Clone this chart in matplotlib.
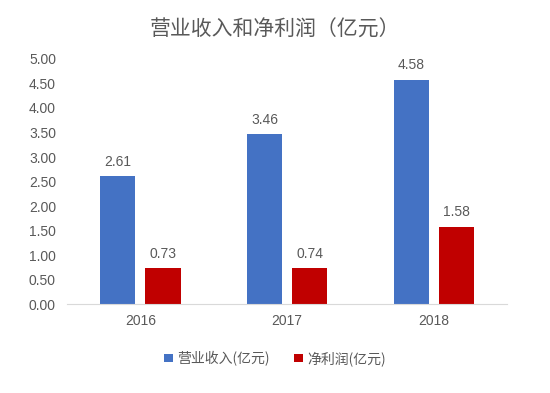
import numpy as np
import matplotlib.pyplot as plt

plt.rcParams['font.family'] = ['Noto Sans CJK SC', 'DejaVu Sans']

years = ['2016', '2017', '2018']
revenue = [2.61, 3.46, 4.58]
profit = [0.73, 0.74, 1.58]
labels = ['营业收入(亿元)', '净利润(亿元)']

gray = '#595959'
fig = plt.figure(figsize=(5.5, 3.93), dpi=100)
ax = fig.add_axes([0.122, 0.226, 0.80, 0.624])

x = np.arange(len(years))
w = 0.24
b1 = ax.bar(x - 0.154, revenue, w, color='#4472C4', label=labels[0])
b2 = ax.bar(x + 0.154, profit, w, color='#C00000', label=labels[1])

for bars in (b1, b2):
    for r in bars:
        ax.text(r.get_x() + r.get_width() / 2, r.get_height() + 0.15,
                f'{r.get_height():.2f}', ha='center', va='bottom',
                fontsize=10, color=gray, family='Liberation Sans')

ax.set_ylim(0, 5)
ax.set_yticks(np.arange(0, 5.01, 0.5))
ax.set_yticklabels([f'{v:.2f}' for v in np.arange(0, 5.01, 0.5)],
                   family='Liberation Sans')
ax.set_xticks(x)
ax.set_xticklabels(years, family='Liberation Sans')
ax.set_xlim(-0.5, 2.5)
ax.tick_params(length=0, labelsize=10, colors=gray)
ax.tick_params(axis='x', pad=7)
ax.tick_params(axis='y', pad=8)
for s in ['top', 'right', 'left']:
    ax.spines[s].set_visible(False)
ax.spines['bottom'].set_color('#D9D9D9')

fig.text(0.5, 0.925, '营业收入和净利润（亿元）', ha='center', va='center',
         fontsize=15, color=gray)
fig.legend(handles=[b1, b2], loc='center', bbox_to_anchor=(0.5, 0.088),
           ncol=2, frameon=False, fontsize=10, handlelength=0.6,
           handleheight=0.6, handletextpad=0.3, columnspacing=1.8,
           labelcolor=gray)

fig.savefig('out.png', dpi=100)
